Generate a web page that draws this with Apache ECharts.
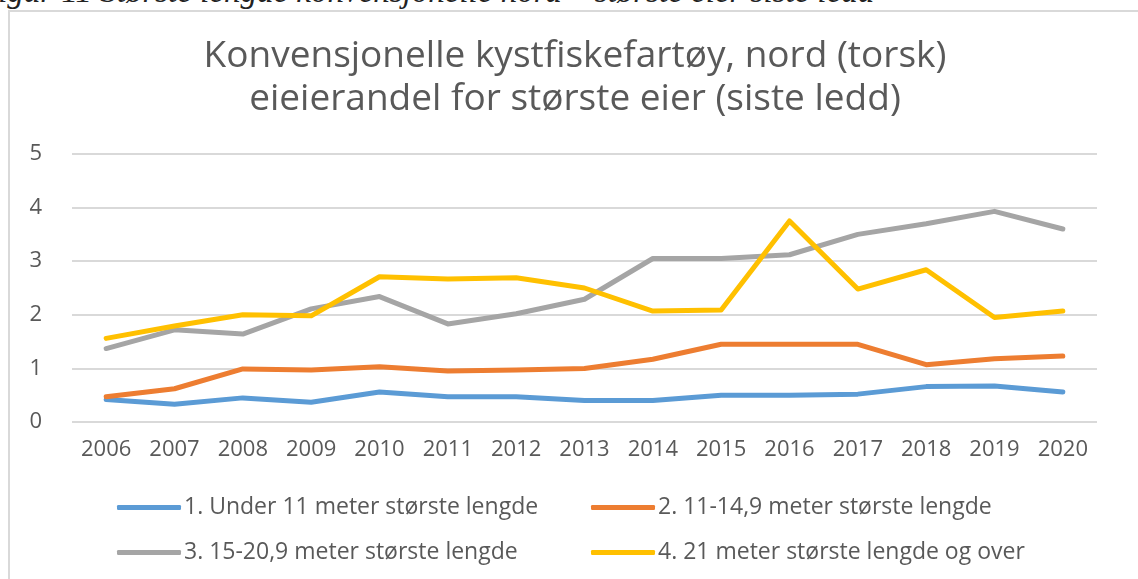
<!DOCTYPE html>
<html>
<head>
	<meta charset="UTF-8">
	<title>Konvensjonelle kystfiskefartøy, nord (torsk)</title>
	<script src="https://cdn.jsdelivr.net/npm/echarts@6/dist/echarts.min.js"></script>
	<style>
		html, body { margin: 0; padding: 0; background: #fff; overflow: hidden; width: 1138px; height: 579px; }
		.caption {
			position: absolute; left: -22px; top: -27px; white-space: nowrap;
			font-family: "Liberation Serif", "DejaVu Serif", serif; font-style: italic;
			font-size: 33px; color: #222;
		}
		#chartBox {
			position: absolute; left: 8px; top: 10px; width: 1130px; height: 580px;
			border: 2px solid #d9d9d9; border-right: none; border-bottom: none;
		}
	</style>
</head>
<body>
	<div class="caption">Figur 11 Største lengde konvensjonelle nord – største eier siste ledd</div>
	<div id="chartBox"></div>
	<script>
		// data
		var years = ['2006', '2007', '2008', '2009', '2010', '2011', '2012', '2013', '2014', '2015', '2016', '2017', '2018', '2019', '2020'];
		var seriesNames = [
			'1. Under 11 meter største lengde',
			'2. 11-14,9 meter største lengde',
			'3. 15-20,9 meter største lengde',
			'4. 21 meter største lengde og over'
		];
		var under11 = [0.42, 0.33, 0.45, 0.37, 0.56, 0.47, 0.47, 0.40, 0.40, 0.50, 0.50, 0.52, 0.66, 0.67, 0.56];
		var m11to15 = [0.47, 0.62, 0.99, 0.97, 1.03, 0.95, 0.97, 1.00, 1.17, 1.45, 1.45, 1.45, 1.07, 1.18, 1.23];
		var m15to21 = [1.37, 1.72, 1.64, 2.11, 2.34, 1.83, 2.02, 2.29, 3.05, 3.05, 3.12, 3.50, 3.70, 3.93, 3.60];
		var m21plus = [1.56, 1.79, 2.00, 1.98, 2.71, 2.67, 2.69, 2.50, 2.07, 2.09, 3.75, 2.48, 2.84, 1.95, 2.07];
		var colors = ['#5b9bd5', '#ed7d31', '#a5a5a5', '#ffc000'];

		var chart = echarts.init(document.getElementById('chartBox'));
		var txt = '#595959';
		var fnt = '"Open Sans", Lato, sans-serif';

		function legendAt(idx, left, top) {
			return {
				data: [seriesNames[idx]],
				left: left, top: top,
				itemWidth: 64, itemHeight: 5, itemGap: 0,
				icon: 'roundRect',
				textStyle: { color: txt, fontSize: 23, fontFamily: fnt, padding: [0, 0, 0, -2] }
			};
		}

		var option = {
			animation: false,
			color: colors,
			title: {
				text: 'Konvensjonelle kystfiskefartøy, nord (torsk)\neieierandel for største eier (siste ledd)',
				left: 'center', top: 18,
				textStyle: { color: txt, fontSize: 37, fontWeight: 'normal', fontFamily: fnt, lineHeight: 43 }
			},
			legend: [
				legendAt(0, 102, 479),
				legendAt(1, 576, 479),
				legendAt(2, 102, 524),
				legendAt(3, 576, 524)
			],
			grid: { left: 62, right: 43, top: 142, height: 268 },
			xAxis: {
				type: 'category',
				data: years,
				boundaryGap: true,
				axisLine: { show: false },
				axisTick: { show: false },
				axisLabel: { color: txt, fontSize: 22, fontFamily: fnt, margin: 17, interval: 0 }
			},
			yAxis: {
				type: 'value',
				min: 0, max: 5, interval: 1,
				axisLabel: { color: txt, fontSize: 22, fontFamily: fnt, margin: 30 },
				splitLine: { lineStyle: { color: '#d9d9d9', width: 2 } }
			},
			series: [under11, m11to15, m15to21, m21plus].map(function (d, i) {
				return {
					name: seriesNames[i],
					type: 'line',
					data: d,
					symbol: 'none',
					lineStyle: { width: 5, cap: 'round', join: 'round' }
				};
			})
		};
		chart.setOption(option);
	</script>
</body>
</html>
